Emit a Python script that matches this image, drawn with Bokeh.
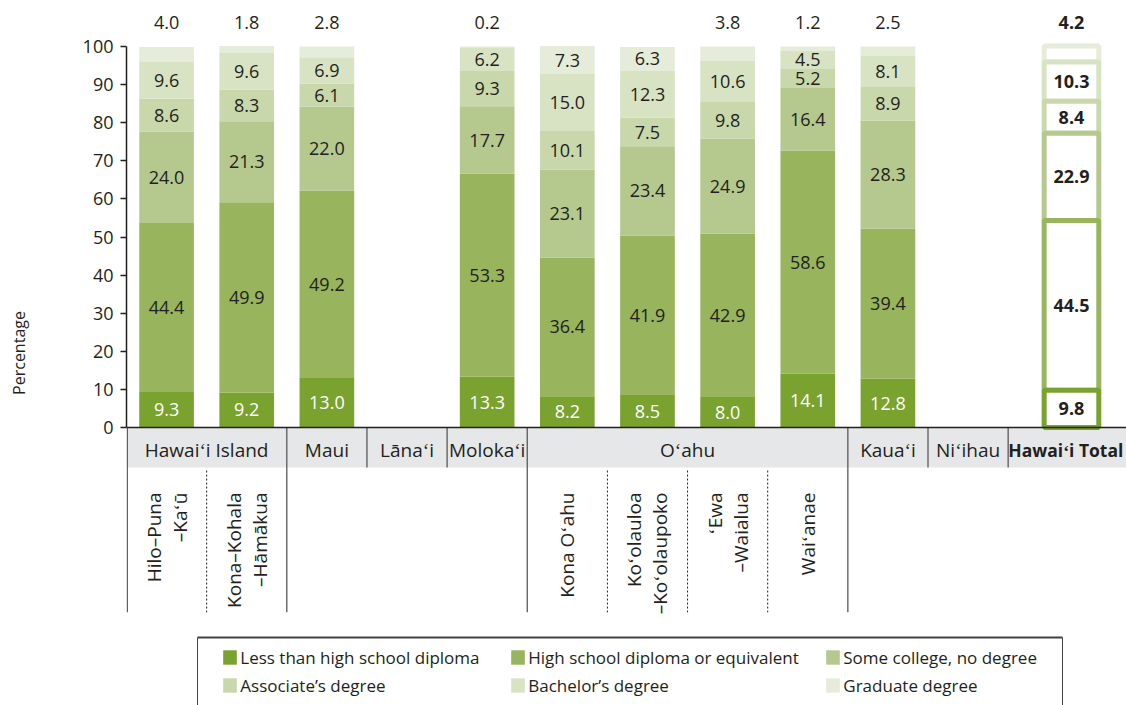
import math
from bokeh.plotting import figure
from bokeh.models import (ColumnDataSource, Range1d, Legend, LegendItem, Span, FixedTicker)
from bokeh.core.properties import value
from bokeh.embed import file_html
from bokeh.resources import INLINE

# ---------------- data ----------------
regions = ["Hilo–Puna\n–Kaʻū", "Kona–Kohala\n–Hāmākua", "Maui", "Lānaʻi", "Molokaʻi",
           "Kona Oʻahu", "Koʻolauloa\n–Koʻolaupoko", "ʻEwa\n–Waialua", "Waiʻanae",
           "Kauaʻi", "Niʻihau", "Hawaiʻi Total"]
islands = ["Hawaiʻi Island", "Hawaiʻi Island", "Maui", "Lānaʻi", "Molokaʻi",
           "Oʻahu", "Oʻahu", "Oʻahu", "Oʻahu", "Kauaʻi", "Niʻihau", "Hawaiʻi Total"]
TOTAL = "Hawaiʻi Total"

less_hs      = [9.3, 9.2, 13.0, None, 13.3, 8.2, 8.5, 8.0, 14.1, 12.8, None, 9.8]
high_school  = [44.4, 49.9, 49.2, None, 53.3, 36.4, 41.9, 42.9, 58.6, 39.4, None, 44.5]
some_college = [24.0, 21.3, 22.0, None, 17.7, 23.1, 23.4, 24.9, 16.4, 28.3, None, 22.9]
associate    = [8.6, 8.3, 6.1, None, 9.3, 10.1, 7.5, 9.8, 5.2, 8.9, None, 8.4]
bachelor     = [9.6, 9.6, 6.9, None, 6.2, 15.0, 12.3, 10.6, 4.5, 8.1, None, 10.3]
graduate     = [4.0, 1.8, 2.8, None, 0.2, 7.3, 6.3, 3.8, 1.2, 2.5, None, 4.2]

series_names = ["Less than high school diploma", "High school diploma or equivalent",
                "Some college, no degree", "Associate’s degree", "Bachelor’s degree",
                "Graduate degree"]
series = [less_hs, high_school, some_college, associate, bachelor, graduate]
colors = ["#7aa22f", "#98b45c", "#b5c88e", "#c8d8ab", "#d8e3c4", "#e5ecd9"]

# ---------------- layout constants ----------------
FONT = "Open Sans"
INK = "#231f20"
W, H = 1126, 705
OFF = 0                    # page offset of the figure
LEFT = 126                 # frame left inside figure
SLOT_PX = 80.15
PX_PER_UNIT = 3.81
ZERO_PAGE_Y = 427
X_END = (W - LEFT) / SLOT_PX
Y_TOP = (ZERO_PAGE_Y - OFF) / PX_PER_UNIT
Y_BOT = (ZERO_PAGE_Y - (OFF + H)) / PX_PER_UNIT
BAR_W = 0.682
TOTAL_POS = 11.79
TOTAL_HEAD_POS = 11.72
HEADER_BOTTOM = -10.5
TABLE_BOTTOM = -48.5
OUTSIDE_Y = 106.3

def xpos(i):
    return TOTAL_POS if regions[i] == TOTAL else i + 0.5

p = figure(width=W, height=H, output_backend="svg", toolbar_location=None,
           x_range=Range1d(0, X_END), y_range=Range1d(Y_BOT, Y_TOP),
           x_axis_location=None, min_border=0, min_border_left=LEFT,
           min_border_right=0, min_border_top=0, min_border_bottom=0)
p.outline_line_color = None
p.grid.visible = False

# ---------------- table (header band and separators) ----------------
p.quad(left=[0], right=[X_END], top=[0], bottom=[HEADER_BOTTOM],
       fill_color="#e6e7e8", line_color=None)

# group runs
runs = []
start = 0
for i in range(1, len(islands) + 1):
    if i == len(islands) or islands[i] != islands[start]:
        runs.append((islands[start], start, i))
        start = i
multi = {name for name, a, b in runs if b - a > 1}

hx, hy, ht = [], [], []
for name, a, b in runs:
    if name == TOTAL:
        continue
    hx.append((a + b) / 2); hy.append(-6.0); ht.append(name)
p.text(x=hx, y=hy, text=ht, text_font=value(FONT), text_font_size="19px",
       text_color=INK, text_align="center", text_baseline="middle")
p.text(x=[TOTAL_HEAD_POS], y=[-6.0], text=[TOTAL], text_font=value(FONT),
       text_font_size="17.5px", text_font_style="bold", text_color=INK,
       text_align="center", text_baseline="middle")

# solid separators
sx0, sy0, sx1, sy1 = [], [], [], []
for k in range(1, len(runs)):
    prev_name, pa, pb = runs[k - 1]
    name, a, b = runs[k]
    full = prev_name in multi or name in multi
    sx0.append(a); sx1.append(a); sy0.append(0)
    sy1.append(TABLE_BOTTOM if full else HEADER_BOTTOM)
sx0.append(0.01); sx1.append(0.01); sy0.append(0); sy1.append(TABLE_BOTTOM)
p.segment(x0=sx0, y0=sy0, x1=sx1, y1=sy1, line_color="#58595b", line_width=1.3)

# dotted separators within multi-region islands
dx = []
for name, a, b in runs:
    if name in multi:
        dx += list(range(a + 1, b))
p.segment(x0=dx, y0=[-11.3] * len(dx), x1=dx, y1=[TABLE_BOTTOM] * len(dx),
          line_color=INK, line_width=1, line_dash="2 2")

# rotated sub-region labels
rx, rt = [], []
for i, r in enumerate(regions):
    if islands[i] in multi:
        rx.append(xpos(i)); rt.append(r)
p.text(x=rx, y=[-17.06] * len(rx), text=rt, angle=math.pi / 2,
       text_font=value(FONT), text_font_size="19px", text_color=INK,
       text_align="right", text_baseline="middle", text_line_height=1.0)

# ---------------- stacked bars ----------------
bar_idx = [i for i in range(len(regions)) if less_hs[i] is not None and regions[i] != TOTAL]
tot_idx = regions.index(TOTAL)

renderers = []
lab = {"dark": ([], [], []), "white": ([], [], []), "bold": ([], [], [])}
cum = {i: 0.0 for i in range(len(regions))}
bottoms_all, tops_all = [], []
for k, vals in enumerate(series):
    b_list, t_list = {}, {}
    for i in range(len(regions)):
        if vals[i] is None:
            continue
        b_list[i] = cum[i]
        t_list[i] = cum[i] + vals[i]
        cum[i] = t_list[i]
    bottoms_all.append(b_list); tops_all.append(t_list)

    src = ColumnDataSource(dict(x=[xpos(i) for i in bar_idx],
                                bottom=[b_list[i] for i in bar_idx],
                                top=[t_list[i] for i in bar_idx]))
    r = p.vbar(x="x", bottom="bottom", top="top", width=BAR_W, source=src,
               fill_color=colors[k], line_color=None)
    renderers.append(r)

    for i in bar_idx + [tot_idx]:
        v = vals[i]
        if k == len(series) - 1 and v < 5:
            y = OUTSIDE_Y
        else:
            y = (b_list[i] + t_list[i]) / 2
        key = "bold" if i == tot_idx else ("white" if k == 0 else "dark")
        lab[key][0].append(xpos(i)); lab[key][1].append(y); lab[key][2].append(f"{v:.1f}")

# total bar: outlined segments, drawn top-down so lower borders stay on top
for k in reversed(range(len(series))):
    p.vbar(x=[TOTAL_POS], bottom=[bottoms_all[k][tot_idx]], top=[tops_all[k][tot_idx]],
           width=BAR_W, fill_color="white", line_color=colors[k], line_width=5)

for key, (xs, ys, ts) in lab.items():
    p.text(x=xs, y=ys, text=ts, text_font=value(FONT), text_font_size="18px",
           text_font_style="bold" if key == "bold" else "normal",
           text_color="white" if key == "white" else INK,
           text_align="center", text_baseline="middle")

p.add_layout(Span(location=0, dimension="width", line_color=INK, line_width=1.5))

# ---------------- y axis ----------------
ax = p.yaxis[0]
ax.ticker = FixedTicker(ticks=list(range(0, 101, 10)))
ax.bounds = (0, 100)
ax.major_tick_out = 6
ax.major_tick_in = 0
ax.minor_tick_out = 0
ax.minor_tick_in = 0
ax.axis_line_color = INK
ax.axis_line_width = 1.5
ax.major_tick_line_color = INK
ax.major_tick_line_width = 1.5
ax.major_label_text_font = FONT
ax.major_label_text_font_size = "18px"
ax.major_label_text_color = INK
ax.major_label_standoff = 7
ax.axis_label = "Percentage"
ax.axis_label_text_font = FONT
ax.axis_label_text_font_size = "16px"
ax.axis_label_text_font_style = "normal"
ax.axis_label_text_color = INK
ax.axis_label_standoff = 50

# ---------------- legend ----------------
box_l = (197 - 126) / SLOT_PX
box_r = (1062 - 126) / SLOT_PX
box_t = (ZERO_PAGE_Y - 637) / PX_PER_UNIT
p.segment(x0=[box_l, box_l, box_r], y0=[box_t, box_t, box_t],
          x1=[box_r, box_l, box_r], y1=[box_t, Y_BOT - 5, Y_BOT - 5],
          line_color="#414042", line_width=[2, 1, 1])

col_starts = [223, 511, 826]
leg_y = (OFF + H) - 696.5
for c in range(3):
    items = [LegendItem(label=series_names[c], renderers=[renderers[c]]),
             LegendItem(label=series_names[c + 3], renderers=[renderers[c + 3]])]
    leg = Legend(items=items, location=(col_starts[c] - 126 - 1.7, leg_y),
                 orientation="vertical", padding=0, margin=0,
                 border_line_color=None, background_fill_alpha=0,
                 glyph_width=17, glyph_height=18, label_standoff=2,
                 label_height=18, spacing=5,
                 label_text_font=FONT, label_text_font_size="17px",
                 label_text_color=INK)
    p.add_layout(leg)

open("out.html", "w").write(file_html(p, INLINE))
